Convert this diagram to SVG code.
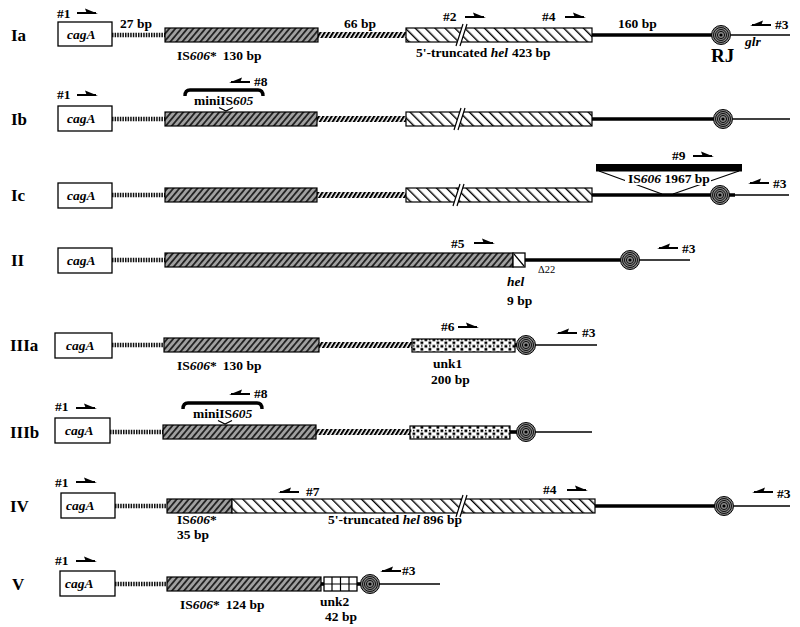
<svg xmlns="http://www.w3.org/2000/svg" width="800" height="627" viewBox="0 0 800 627">
<defs>
<style>
text{font-family:"Liberation Serif","Times New Roman",serif;font-weight:bold;font-size:13.5px;fill:#000}
.lab{font-size:17px}
.it{font-style:italic}
.rj{font-size:19px}
.sm{font-size:10.5px;font-weight:normal}
.box{fill:#fff;stroke:#000;stroke-width:1.3}
.is{fill:url(#isH);stroke:#000;stroke-width:1.2}
.hel{fill:url(#helH);stroke:#000;stroke-width:1.2}
.unk1{fill:url(#unkP);stroke:#000;stroke-width:1.2}
.dot{stroke:#111;stroke-width:4.5;stroke-dasharray:1.5 1.1;fill:none}
.hash{fill:url(#hashP)}
.thick{stroke:#000;stroke-width:3.6;fill:none}
.thin{stroke:#000;stroke-width:1.4;fill:none}
.ln{stroke:#000;stroke-width:1.2;fill:none}
</style>
<pattern id="isH" patternUnits="userSpaceOnUse" width="4.6" height="10" patternTransform="rotate(40)">
<rect width="4.6" height="10" fill="#a0a0a0"/><rect width="1.8" height="10" fill="#222"/>
</pattern>
<pattern id="helH" patternUnits="userSpaceOnUse" width="7" height="10" patternTransform="rotate(-45)">
<rect width="7" height="10" fill="#fff"/><rect width="1.4" height="10" fill="#000"/>
</pattern>
<pattern id="hashP" patternUnits="userSpaceOnUse" width="3.6" height="10" patternTransform="rotate(32)">
<rect width="3.6" height="10" fill="#fff"/><rect width="2.1" height="10" fill="#000"/>
</pattern>
<pattern id="unkP" patternUnits="userSpaceOnUse" width="8" height="6.5">
<rect width="8" height="6.5" fill="#fff"/><rect x="0.5" y="0.5" width="2.8" height="2.6" fill="#000"/><rect x="4.5" y="3.5" width="2.8" height="2.6" fill="#000"/><rect x="5" y="0.8" width="1.5" height="1.4" fill="#000"/>
</pattern>
<g id="prR"><path d="M0,0 H19" stroke="#000" stroke-width="2"/><path d="M21,0.8 L8,-4.5 L10,0.8 Z" fill="#000"/></g>
<g id="prL"><path d="M2,0 H21" stroke="#000" stroke-width="2"/><path d="M0,0.8 L13,-4.5 L11,0.8 Z" fill="#000"/></g>
<g id="rj"><circle r="9.5" fill="#888" stroke="#000" stroke-width="1"/><circle r="7.5" fill="none" stroke="#000" stroke-width="0.9"/><circle r="5.5" fill="none" stroke="#000" stroke-width="0.9"/><circle r="3.6" fill="none" stroke="#000" stroke-width="0.9"/><circle r="1.6" fill="#000"/></g>
</defs>
<rect width="800" height="627" fill="#fff"/>

<!-- Row Ia -->
<g id="row-Ia">
<text class="lab" x="11" y="41">Ia</text>
<g class="connectors">
<line class="dot" x1="112" y1="35" x2="165" y2="35"/>
<rect class="hash" x="318" y="32" width="88" height="6"/>
<line class="thick" x1="592" y1="35" x2="712" y2="35"/>
<line class="thin" x1="731" y1="35" x2="790" y2="35"/>
</g>
<g id="Ia-cagA"><rect class="box" x="58" y="22" width="54" height="24"/><text class="it" x="67" y="39">cagA</text></g>
<g id="Ia-IS606"><rect class="is" x="165" y="28" width="153" height="14"/></g>
<g id="Ia-hel"><rect class="hel" x="406" y="28" width="186" height="14"/>
<path d="M456,46 L463,24 L467,24 L460,46 Z" fill="#fff"/><path class="ln" d="M456,46 L463,24 M460,46 L467,24"/></g>
<g id="Ia-RJ"><use href="#rj" x="721" y="35"/></g>
<text x="57" y="18">#1</text><use href="#prR" x="77" y="13"/>
<text x="120" y="28">27 bp</text>
<text x="177" y="60">IS<tspan class="it">606</tspan>*<tspan dx="6">130 bp</tspan></text>
<text x="344" y="28">66 bp</text>
<text x="443" y="21">#2</text><use href="#prR" x="465" y="17"/>
<text x="542" y="21">#4</text><use href="#prR" x="565" y="17"/>
<text x="416" y="57">5'-truncated <tspan class="it">hel</tspan><tspan dx="4">423 bp</tspan></text>
<text x="618" y="28">160 bp</text>
<text x="775" y="29">#3</text><use href="#prL" x="750" y="25"/>
<text class="it" x="745" y="46" font-size="12">glr</text>
<text class="rj" x="711" y="62">RJ</text>
</g>

<!-- Row Ib -->
<g id="row-Ib">
<text class="lab" x="11" y="125">Ib</text>
<g class="connectors">
<line class="dot" x1="112" y1="119" x2="165" y2="119"/>
<rect class="hash" x="317" y="116" width="89" height="6"/>
<line class="thick" x1="592" y1="119" x2="714" y2="119"/>
<line class="thin" x1="733" y1="119" x2="790" y2="119"/>
</g>
<g id="Ib-cagA"><rect class="box" x="58" y="106" width="54" height="25"/><text class="it" x="67" y="123">cagA</text></g>
<g id="Ib-IS606"><rect class="is" x="165" y="112" width="152" height="14"/></g>
<g id="Ib-miniIS605"><path d="M185,96 Q185,90 190,90 H258 Q263,90 263,96" stroke="#000" stroke-width="3.4" fill="none"/>
<text x="194" y="105">miniIS<tspan class="it">605</tspan></text>
<path class="ln" d="M219,107.5 L226,111 L233,107.5"/></g>
<g id="Ib-hel"><rect class="hel" x="406" y="112" width="186" height="14"/>
<path d="M454,130 L461,108 L465,108 L458,130 Z" fill="#fff"/><path class="ln" d="M454,130 L461,108 M458,130 L465,108"/></g>
<g id="Ib-RJ"><use href="#rj" x="723" y="119"/></g>
<text x="57" y="99">#1</text><use href="#prR" x="77" y="95"/>
<text x="254" y="86">#8</text><use href="#prL" x="229" y="82"/>
</g>

<!-- Row Ic -->
<g id="row-Ic">
<text class="lab" x="11" y="201">Ic</text>
<g class="connectors">
<line class="dot" x1="112" y1="195" x2="165" y2="195"/>
<rect class="hash" x="317" y="192" width="89" height="6"/>
<line class="thick" x1="592" y1="195" x2="735" y2="195"/>
<line class="thin" x1="735" y1="195" x2="789" y2="195"/>
</g>
<g id="Ic-cagA"><rect class="box" x="58" y="183" width="54" height="25"/><text class="it" x="67" y="200">cagA</text></g>
<g id="Ic-IS606"><rect class="is" x="165" y="188" width="152" height="14"/></g>
<g id="Ic-hel"><rect class="hel" x="406" y="188" width="186" height="14"/>
<path d="M453,206 L460,184 L464,184 L457,206 Z" fill="#fff"/><path class="ln" d="M453,206 L460,184 M457,206 L464,184"/></g>
<g id="Ic-RJ"><use href="#rj" x="720" y="195"/></g>
<g id="Ic-IS606-1967"><rect x="596" y="164" width="146" height="7.5" fill="#000"/>
<path class="ln" d="M599,171 L662,194 M739,171 L673,194"/>
<rect x="625" y="172" width="86" height="13" fill="#fff"/>
<text x="628" y="183">IS<tspan class="it">606</tspan> 1967 bp</text></g>
<text x="672" y="160">#9</text><use href="#prR" x="693" y="156"/>
<text x="773" y="188">#3</text><use href="#prL" x="748" y="183"/>
</g>

<!-- Row II -->
<g id="row-II">
<text class="lab" x="11" y="266" font-weight="normal">II</text>
<g class="connectors">
<line class="dot" x1="112" y1="260" x2="165" y2="260"/>
<line class="thick" x1="525" y1="260" x2="622" y2="260"/>
<line class="thin" x1="639" y1="260" x2="690" y2="260"/>
</g>
<g id="II-cagA"><rect class="box" x="58" y="248" width="54" height="25"/><text class="it" x="67" y="265" font-weight="normal">cagA</text></g>
<g id="II-IS606"><rect class="is" x="165" y="253" width="348" height="14"/></g>
<g id="II-hel"><rect class="box" x="513" y="253" width="12" height="14"/><path class="ln" d="M514,254 L524,266"/></g>
<g id="II-RJ"><use href="#rj" x="630" y="260"/></g>
<text x="451" y="248">#5</text><use href="#prR" x="474" y="243"/>
<text x="682" y="253">#3</text><use href="#prL" x="657" y="248"/>
<text class="sm" x="538" y="273">Δ22</text>
<text class="it" x="507" y="286">hel</text>
<text x="507" y="305">9 bp</text>
</g>

<!-- Row IIIa -->
<g id="row-IIIa">
<text class="lab" x="10" y="351">IIIa</text>
<g class="connectors">
<line class="dot" x1="112" y1="345" x2="164" y2="345"/>
<rect class="hash" x="319" y="342" width="93" height="6"/>
<line class="thick" x1="515" y1="345" x2="520" y2="345"/>
<line class="thin" x1="535" y1="345" x2="597" y2="345"/>
</g>
<g id="IIIa-cagA"><rect class="box" x="55" y="333" width="57" height="25"/><text class="it" x="66" y="350">cagA</text></g>
<g id="IIIa-IS606"><rect class="is" x="164" y="338" width="155" height="14"/></g>
<g id="IIIa-unk1"><rect class="unk1" x="412" y="339" width="103" height="13"/></g>
<g id="IIIa-RJ"><use href="#rj" x="526" y="345"/></g>
<text x="441" y="331">#6</text><use href="#prR" x="458" y="327"/>
<text x="582" y="337">#3</text><use href="#prL" x="556" y="333"/>
<text x="177" y="370">IS<tspan class="it">606</tspan>*<tspan dx="6">130 bp</tspan></text>
<text x="433" y="368">unk1</text>
<text x="431" y="384">200 bp</text>
</g>

<!-- Row IIIb -->
<g id="row-IIIb">
<text class="lab" x="10" y="438">IIIb</text>
<g class="connectors">
<line class="dot" x1="110" y1="432" x2="163" y2="432"/>
<rect class="hash" x="316" y="429" width="94" height="6"/>
<line class="thick" x1="510" y1="432" x2="519" y2="432"/>
<line class="thin" x1="535" y1="432" x2="592" y2="432"/>
</g>
<g id="IIIb-cagA"><rect class="box" x="55" y="418" width="55" height="25"/><text class="it" x="65" y="435">cagA</text></g>
<g id="IIIb-IS606"><rect class="is" x="163" y="425" width="153" height="14"/></g>
<g id="IIIb-miniIS605"><path d="M183,409 Q183,403 188,403 H257 Q262,403 262,409" stroke="#000" stroke-width="3.4" fill="none"/>
<text x="193" y="418">miniIS<tspan class="it">605</tspan></text>
<path class="ln" d="M218,420.5 L225,424 L232,420.5"/></g>
<g id="IIIb-unk1"><rect class="unk1" x="410" y="426" width="100" height="13"/></g>
<g id="IIIb-RJ"><use href="#rj" x="526" y="432"/></g>
<text x="55" y="411">#1</text><use href="#prR" x="76" y="408"/>
<text x="254" y="398">#8</text><use href="#prL" x="229" y="394"/>
</g>

<!-- Row IV -->
<g id="row-IV">
<text class="lab" x="10" y="512">IV</text>
<g class="connectors">
<line class="dot" x1="115" y1="506" x2="167" y2="506"/>
<line class="thick" x1="595" y1="506" x2="715" y2="506"/>
<line class="thin" x1="734" y1="506" x2="790" y2="506"/>
</g>
<g id="IV-cagA"><rect class="box" x="61" y="493" width="54" height="25"/><text class="it" x="66" y="510">cagA</text></g>
<g id="IV-IS606"><rect class="is" x="167" y="499" width="65" height="14"/></g>
<g id="IV-hel"><rect class="hel" x="232" y="499" width="363" height="14"/>
<path d="M456,517 L463,495 L467,495 L460,517 Z" fill="#fff"/><path class="ln" d="M456,517 L463,495 M460,517 L467,495"/></g>
<g id="IV-RJ"><use href="#rj" x="724" y="506"/></g>
<text x="55" y="487">#1</text><use href="#prR" x="76" y="482"/>
<text x="306" y="496">#7</text><use href="#prL" x="278" y="492"/>
<text x="177" y="524">IS<tspan class="it">606</tspan>*</text>
<text x="177" y="539">35 bp</text>
<text x="328" y="524">5'-truncated <tspan class="it">hel</tspan> 896 bp</text>
<text x="543" y="494">#4</text><use href="#prR" x="567" y="490"/>
<text x="777" y="498">#3</text><use href="#prL" x="752" y="492"/>
</g>

<!-- Row V -->
<g id="row-V">
<text class="lab" x="12" y="590">V</text>
<g class="connectors">
<line class="dot" x1="115" y1="584" x2="167" y2="584"/>
<line class="thick" x1="321" y1="584" x2="324" y2="584"/>
<line class="thick" x1="357" y1="584" x2="362" y2="584"/>
<line class="thin" x1="379" y1="584" x2="440" y2="584"/>
</g>
<g id="V-cagA"><rect class="box" x="60" y="571" width="55" height="25"/><text class="it" x="65" y="588">cagA</text></g>
<g id="V-IS606"><rect class="is" x="167" y="577" width="154" height="14"/></g>
<g id="V-unk2"><rect class="box" x="324" y="577" width="33" height="14"/><path class="ln" d="M332,577 V591 M340.5,577 V591 M349,577 V591 M324,584 H357"/></g>
<g id="V-RJ"><use href="#rj" x="370" y="584"/></g>
<text x="55" y="565">#1</text><use href="#prR" x="76" y="561"/>
<text x="402" y="575">#3</text><use href="#prL" x="380" y="571"/>
<text x="180" y="609">IS<tspan class="it">606</tspan>*<tspan dx="6">124 bp</tspan></text>
<text x="320" y="606">unk2</text>
<text x="325" y="621">42 bp</text>
</g>
</svg>
